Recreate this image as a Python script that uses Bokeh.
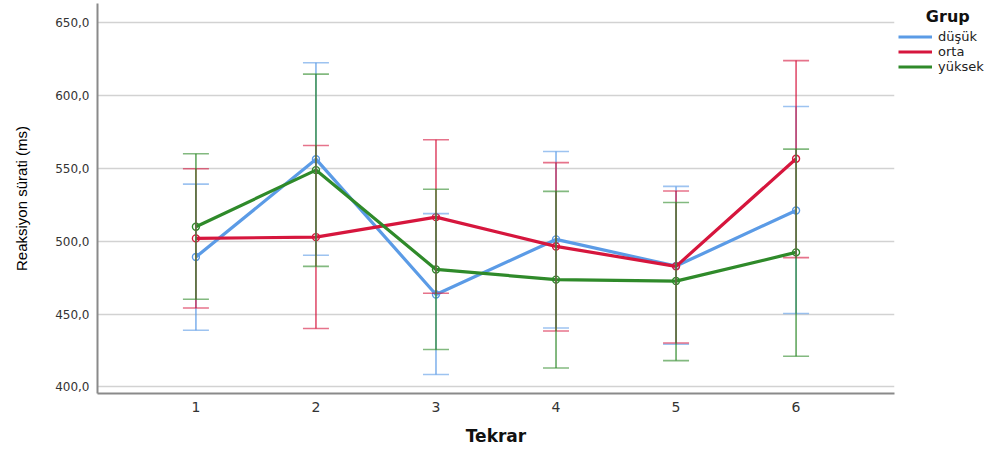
from bokeh.plotting import figure
from bokeh.models import (ColumnDataSource, Range1d, FixedTicker, Whisker, TeeHead,
                          Legend, LegendItem)
from bokeh.embed import file_html
from bokeh.resources import INLINE

# Repetition number (Tekrar)
tekrar = [1, 2, 3, 4, 5, 6]

# Group means (ms)
dusuk_mean = [489.2, 556.4, 463.5, 501.3, 483.0, 521.2]
orta_mean = [502.0, 502.9, 516.6, 496.5, 482.8, 556.7]
yuksek_mean = [510.0, 548.9, 480.7, 473.7, 472.7, 492.4]

# Error-bar bounds (ms)
dusuk_upper = [539.3, 622.6, 519.0, 561.7, 537.7, 592.6]
dusuk_lower = [438.9, 490.4, 408.5, 440.5, 429.3, 450.4]
orta_upper = [549.8, 565.8, 569.7, 554.0, 534.5, 624.1]
orta_lower = [454.2, 440.1, 464.3, 438.4, 430.2, 488.8]
yuksek_upper = [560.1, 614.8, 535.8, 534.3, 526.7, 563.3]
yuksek_lower = [460.2, 482.8, 425.7, 413.0, 418.1, 421.1]

group_names = ["düşük", "orta", "yüksek"]
group_colors = ["#5b9be6", "#d6163d", "#2f8a2a"]

y_ticks = [400, 450, 500, 550, 600, 650]

p = figure(frame_width=797, frame_height=390, output_backend="svg", toolbar_location=None,
           x_range=Range1d(0.18, 6.82), y_range=Range1d(395.5, 663.3),
           min_border_left=97, min_border_right=0, min_border_top=3,
           min_border_bottom=60, background_fill_color="white",
           border_fill_color="white")
p.outline_line_color = None

# Axes
p.xaxis.ticker = FixedTicker(ticks=tekrar)
p.yaxis.ticker = FixedTicker(ticks=y_ticks)
p.yaxis.major_label_overrides = {t: f"{t:.1f}".replace(".", ",") for t in y_ticks}
for ax in (p.xaxis, p.yaxis):
    ax.axis_line_color = "#8a8a8a"
    ax.axis_line_width = 2
    ax.major_tick_in = 0
    ax.major_tick_out = 0
    ax.minor_tick_line_color = None
    ax.major_label_text_font = "DejaVu Sans"
    ax.major_label_text_color = "#333333"

p.yaxis.major_label_text_font_size = "12px"
p.yaxis.major_label_standoff = 8
p.yaxis.axis_label = "Reaksiyon sürati (ms)"
p.yaxis.axis_label_text_font = "Liberation Sans"
p.yaxis.axis_label_text_font_size = "15px"
p.yaxis.axis_label_text_font_style = "normal"
p.yaxis.axis_label_text_color = "black"
p.yaxis.axis_label_standoff = 22

p.xaxis.major_label_text_font_size = "14px"
p.xaxis.major_label_standoff = 8
p.xaxis.axis_label = "Tekrar"
p.xaxis.axis_label_text_font = "DejaVu Sans"
p.xaxis.axis_label_text_font_size = "17px"
p.xaxis.axis_label_text_font_style = "bold"
p.xaxis.axis_label_text_color = "#111111"
p.xaxis.axis_label_standoff = 11

p.xgrid.grid_line_color = None
p.ygrid.grid_line_color = "#d2d2d2"
p.ygrid.grid_line_width = 1.6

means = [dusuk_mean, orta_mean, yuksek_mean]
uppers = [dusuk_upper, orta_upper, yuksek_upper]
lowers = [dusuk_lower, orta_lower, yuksek_lower]

items = []
for name, color, m, up, lo in zip(group_names, group_colors, means, uppers, lowers):
    src = ColumnDataSource(dict(x=tekrar, mean=m, upper=up, lower=lo))
    r = p.line("x", "mean", source=src, line_color=color, line_width=3.2)
    p.scatter("x", "mean", source=src, size=7, marker="circle",
              line_color=color, line_width=1.4, fill_alpha=0)
    w = Whisker(base="x", upper="upper", lower="lower", source=src,
                line_color=color, line_alpha=0.75, line_width=1.6, level="glyph",
                upper_head=TeeHead(size=26, line_color=color, line_alpha=0.6, line_width=1.6),
                lower_head=TeeHead(size=26, line_color=color, line_alpha=0.6, line_width=1.6))
    p.add_layout(w)
    items.append(LegendItem(label=name, renderers=[r]))

legend = Legend(items=items, location="top_left", title="\u00a0\u00a0\u00a0\u00a0\u00a0Grup",
                title_text_font="DejaVu Sans", title_text_font_style="bold",
                title_text_font_size="16px", title_text_color="#111111",
                title_standoff=3, border_line_color=None,
                background_fill_alpha=0, padding=0, margin=4, spacing=0,
                glyph_width=34, glyph_height=15, label_height=15,
                label_standoff=6, label_text_font="DejaVu Sans",
                label_text_font_size="13px", label_text_color="#222222")
p.add_layout(legend, "right")

open("out.html", "w").write(file_html(p, INLINE))
